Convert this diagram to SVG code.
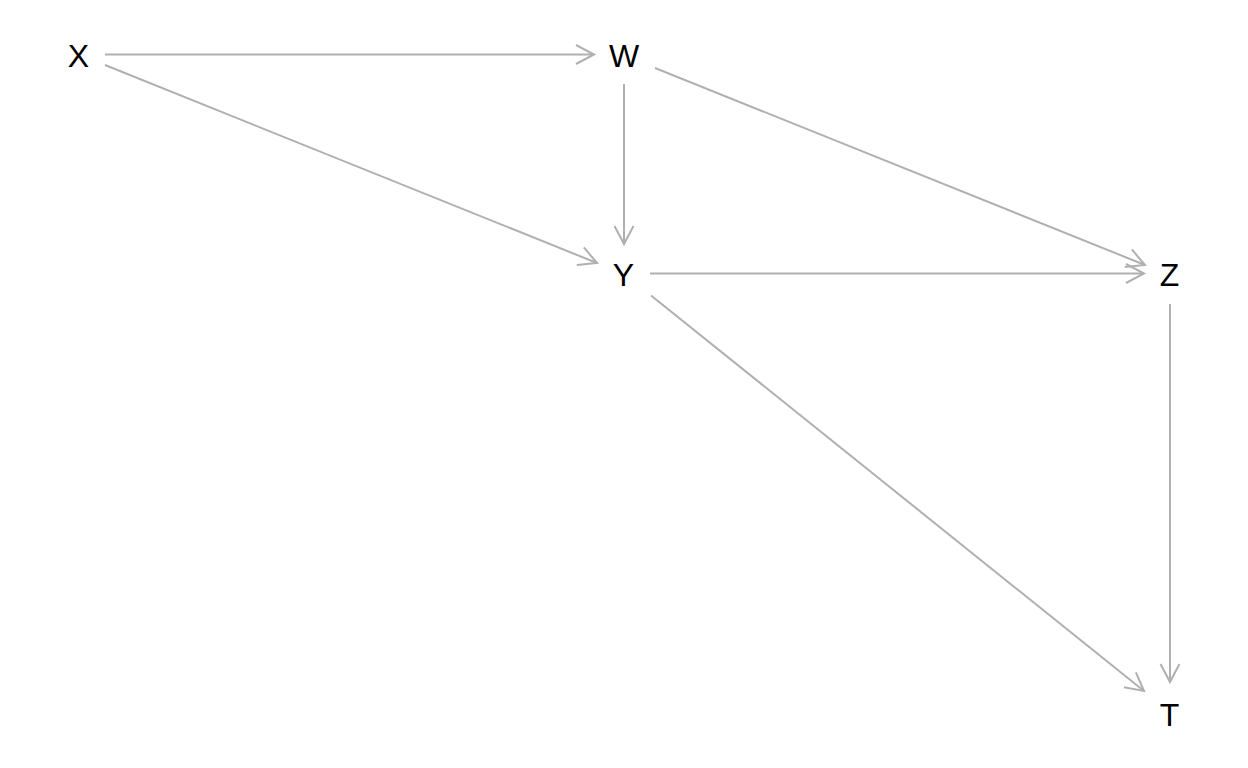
<svg xmlns="http://www.w3.org/2000/svg" width="1248" height="768" viewBox="0 0 1248 768">
<style>
.edge{stroke:#b0b0b0;stroke-width:2;fill:none;marker-end:url(#arr)}
.lbl{font-family:"Liberation Sans",Arial,sans-serif;font-size:32px;fill:#000;text-anchor:middle}
</style>
<defs>
<marker id="arr" markerUnits="userSpaceOnUse" markerWidth="24" markerHeight="24" viewBox="-20 -12 24 24" refX="0" refY="0" orient="auto">
<path d="M-18,-9.5 L0,0 L-18,9.5" fill="none" stroke="#b0b0b0" stroke-width="2"/>
</marker>
</defs>
<rect width="1248" height="768" fill="#fff"/>
<g id="connectors">
<line class="edge" x1="105" y1="54.5" x2="594" y2="54.5"/>
<line class="edge" x1="105" y1="65" x2="597" y2="263"/>
<line class="edge" x1="624" y1="84" x2="624" y2="244"/>
<line class="edge" x1="655" y1="68" x2="1145" y2="265"/>
<line class="edge" x1="650" y1="273.5" x2="1144" y2="273.5"/>
<line class="edge" x1="651" y1="295.5" x2="1144" y2="691"/>
<line class="edge" x1="1170" y1="304" x2="1170" y2="682"/>
</g>
<g id="node-X"><text class="lbl" x="78.5" y="66.5">X</text></g>
<g id="node-W"><text class="lbl" x="624" y="66.5">W</text></g>
<g id="node-Y"><text class="lbl" x="623.5" y="286">Y</text></g>
<g id="node-Z"><text class="lbl" x="1169.5" y="285.5">Z</text></g>
<g id="node-T"><text class="lbl" x="1169.5" y="725.5">T</text></g>
</svg>
